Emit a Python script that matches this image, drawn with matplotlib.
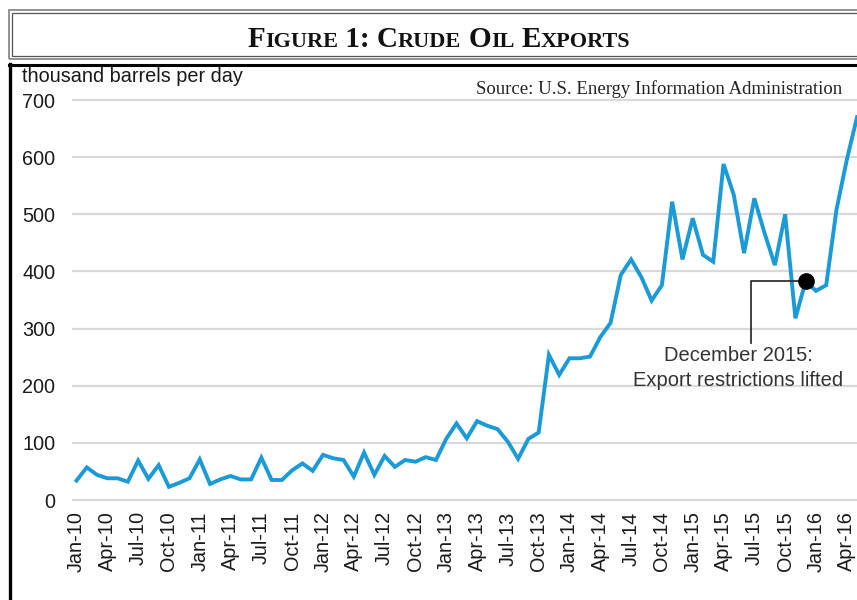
import matplotlib
matplotlib.use("Agg")
import matplotlib.pyplot as plt
from matplotlib.patches import Rectangle
from matplotlib.lines import Line2D

# ---- data (thousand barrels per day), monthly Jan-2010 .. May-2016 ----
exports_2010 = [34, 57, 44, 38, 38, 32, 69, 37, 61, 23, 30, 38]
exports_2011 = [71, 28, 36, 42, 36, 36, 74, 35, 35, 52, 64, 51]
exports_2012 = [79, 73, 70, 41, 83, 44, 77, 58, 70, 67, 75, 70]
exports_2013 = [107, 134, 108, 138, 130, 124, 102, 72, 107, 118, 254, 219]
exports_2014 = [248, 248, 251, 285, 310, 394, 421, 390, 349, 376, 522, 421]
exports_2015 = [493, 429, 417, 588, 534, 432, 528, 467, 411, 500, 318, 383]
exports_2016 = [366, 376, 508, 595, 670]
values = (exports_2010 + exports_2011 + exports_2012 + exports_2013
          + exports_2014 + exports_2015 + exports_2016)

tick_labels = ["Jan-10", "Apr-10", "Jul-10", "Oct-10",
               "Jan-11", "Apr-11", "Jul-11", "Oct-11",
               "Jan-12", "Apr-12", "Jul-12", "Oct-12",
               "Jan-13", "Apr-13", "Jul-13", "Oct-13",
               "Jan-14", "Apr-14", "Jul-14", "Oct-14",
               "Jan-15", "Apr-15", "Jul-15", "Oct-15",
               "Jan-16", "Apr-16"]
y_ticks = [0, 100, 200, 300, 400, 500, 600, 700]
event_index = 71  # December 2015
event_label = "December 2015:\nExport restrictions lifted"

W, H = 857, 600
fig = plt.figure(figsize=(W / 100, H / 100), dpi=100)
fig.patch.set_facecolor("white")

def fx(px):
    return px / W

def fy(py):
    return 1 - py / H

# ---- axes placement (pixel based) ----
ppu = 400 / 700.0           # pixels per unit
x0_px, dx_px = 76.5, 10.27  # first month position, month spacing
ax_left_px, ax_right_px = 72, W
ylo, yhi = -10, 720
ax_top_px = 500 - yhi * ppu
ax_bot_px = 500 - ylo * ppu
ax = fig.add_axes([fx(ax_left_px), fy(ax_bot_px),
                   (ax_right_px - ax_left_px) / W, (ax_bot_px - ax_top_px) / H])
ax.set_xlim((ax_left_px - x0_px) / dx_px, (ax_right_px - x0_px) / dx_px)
ax.set_ylim(ylo, yhi)

xs = list(range(len(values)))
ax.plot(xs, values, color="#1a9ad6", lw=2.8, solid_joinstyle="miter", zorder=3)

ax.set_yticks(y_ticks)
ax.set_yticklabels([str(v) for v in y_ticks])
ax.set_xticks(list(range(0, len(values), 3))[:len(tick_labels)])
ax.set_xticklabels(tick_labels, rotation=90)
ax.grid(axis="y", color="#d9d9d9", lw=1.6)
ax.set_axisbelow(True)
for s in ax.spines.values():
    s.set_visible(False)
ax.tick_params(axis="y", length=0, pad=12, labelsize=14.3, labelcolor="#1a1a1a")
ax.tick_params(axis="x", length=0, pad=4, labelsize=14.3, labelcolor="#1a1a1a")
for lab in ax.get_xticklabels() + ax.get_yticklabels():
    lab.set_fontfamily("Liberation Sans")

# ---- annotation ----
ev_val = values[event_index]
ax.plot([event_index], [ev_val], "o", color="black", ms=11, zorder=5)
corner_x = event_index - (807 - 752) / dx_px
ax.plot([event_index, corner_x, corner_x], [ev_val, ev_val, (500 - 343) / ppu],
        color="#333333", lw=1.3, zorder=4)
ax.text(corner_x - 1.2, (500 - 346) / ppu, event_label, ha="center", va="top",
        fontsize=14.5, color="#333333", family="Liberation Sans", linespacing=1.42)

# ---- y unit label and source ----
fig.text(fx(22), fy(82), "thousand barrels per day", fontsize=14.3,
         family="Liberation Sans", color="#1a1a1a", va="baseline", ha="left")
fig.text(fx(842), fy(94), "Source: U.S. Energy Information Administration",
         fontsize=13.5, family="Liberation Serif", color="#222222",
         va="baseline", ha="right")

# ---- frames ----
fig.add_artist(Rectangle((fx(8.5), fy(58.5)), fx(870) - fx(8.5), fy(9.5) - fy(58.5),
                         transform=fig.transFigure, fill=False, ec="#8a8a8a", lw=1.3))
fig.add_artist(Rectangle((fx(11.5), fy(55.5)), fx(870) - fx(11.5), fy(12.5) - fy(55.5),
                         transform=fig.transFigure, fill=False, ec="#555555", lw=0.9))
fig.add_artist(Line2D([fx(9), fx(W + 5)], [fy(65), fy(65)], transform=fig.transFigure,
                      color="black", lw=2.2))
fig.add_artist(Line2D([fx(10), fx(10)], [fy(64), fy(H + 5)], transform=fig.transFigure,
                      color="black", lw=2.4))

# ---- small-caps title ----
big, small = 21, 16
pieces = [("F", big), ("IGURE", small), (" 1: ", big), ("C", big), ("RUDE", small),
          (" ", big), ("O", big), ("IL", small), (" ", big), ("E", big), ("XPORTS", small)]
fig.canvas.draw()
r = fig.canvas.get_renderer()
tprops = dict(family="Liberation Serif", weight="bold", color="#111111")

def adv(s, size):
    t1 = fig.text(0, 0, "x" + s + "x", fontsize=size, **tprops)
    t2 = fig.text(0, 0, "xx", fontsize=size, **tprops)
    w = t1.get_window_extent(r).width - t2.get_window_extent(r).width
    t1.remove(); t2.remove()
    return w

widths = [adv(s, sz) for s, sz in pieces]
total = sum(widths)
cx = 439
x = cx - total / 2
for (s, sz), w in zip(pieces, widths):
    fig.text(fx(x), fy(47), s, fontsize=sz, va="baseline", ha="left", **tprops)
    x += w

fig.savefig("out.png", dpi=100, facecolor="white")
